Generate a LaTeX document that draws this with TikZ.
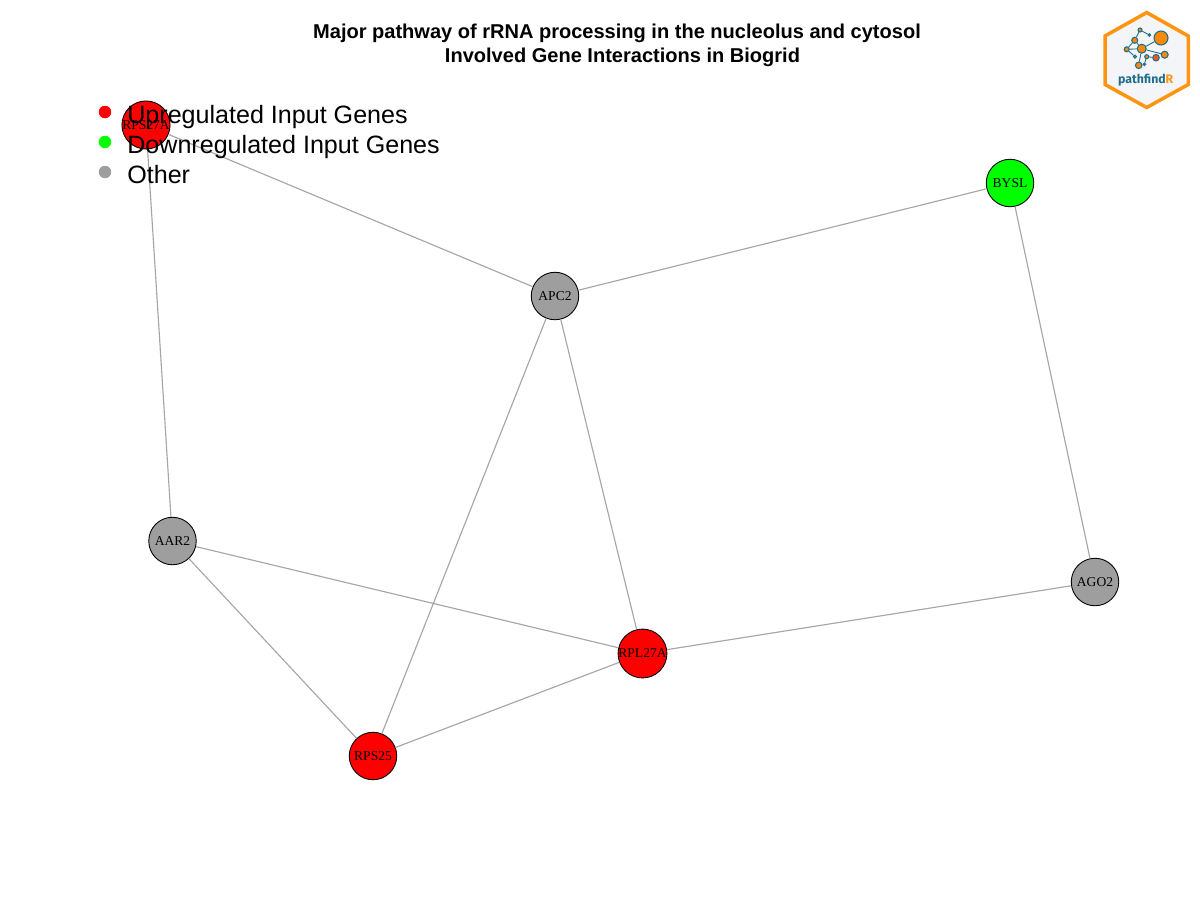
\documentclass[tikz,border=0pt]{standalone}
\usepackage{fontspec}
\setmainfont{Liberation Sans}
\newfontfamily\genefont{Liberation Serif}
\newfontfamily\logofont{Fira Sans}
\definecolor{othergray}{HTML}{9E9E9E}
\definecolor{edgegray}{HTML}{A6A6A6}
\definecolor{upred}{HTML}{FF0000}
\definecolor{downgreen}{HTML}{00FF00}
\definecolor{hexorange}{HTML}{FF9410}
\definecolor{hexfill}{HTML}{F3F5F8}
\definecolor{logoblue}{HTML}{1F6E8C}
\definecolor{logoorange}{HTML}{F98A07}
\definecolor{logored}{HTML}{EE5A1E}
\begin{document}
\begin{tikzpicture}[x=0.02cm,y=-0.02cm]
    \tikzstyle{gene}=[circle, draw=black, line width=0.5pt, inner sep=0pt, minimum size=0.95cm, font=\genefont\fontsize{7.7}{8}\selectfont]
    \tikzstyle{link}=[draw=edgegray, line width=0.65pt]
    \tikzstyle{legenddot}=[circle, inner sep=0pt, minimum size=0.25cm]
    \tikzstyle{legendtext}=[anchor=base west, inner sep=0pt, font=\fontsize{14.28}{16}\selectfont]
    \tikzstyle{titletext}=[inner sep=0pt, anchor=base, font=\bfseries\fontsize{11.4}{14}\selectfont]
    \tikzstyle{hub}=[circle, draw=logoblue, fill=logoorange, line width=0.6pt, inner sep=0pt]
    \tikzstyle{spoke}=[draw=logoblue, line width=0.5pt]
    \useasboundingbox (0,0) rectangle (1200,900);
    \node[gene, fill=upred] (RPSA) at (146,125) {RPS27A};
    \node[gene, fill=downgreen] (BYSL) at (1010,183) {BYSL};
    \node[gene, fill=othergray] (APC) at (555,296) {APC2};
    \node[gene, fill=othergray] (AAR) at (172.5,541) {AAR2};
    \node[gene, fill=othergray] (AGO) at (1095,582) {AGO2};
    \node[gene, fill=upred] (RPL) at (642.5,653.5) {RPL27A};
    \node[gene, fill=upred] (RPS) at (373,756) {RPS25};
    \path[link] (RPSA) -- (APC);
    \path[link] (RPSA) -- (AAR);
    \path[link] (APC) -- (BYSL);
    \path[link] (BYSL) -- (AGO);
    \path[link] (APC) -- (RPL);
    \path[link] (APC) -- (RPS);
    \path[link] (AAR) -- (RPL);
    \path[link] (AAR) -- (RPS);
    \path[link] (RPS) -- (RPL);
    \path[link] (RPL) -- (AGO);
    % title
    \node[titletext] (titleA) at (617,38) {Major pathway of rRNA processing in the nucleolus and cytosol};
    \node[titletext] (titleB) at (622.5,62) {Involved Gene Interactions in Biogrid};
    % legend
    \node[legenddot, fill=upred] (dotUp) at (105,112) {};
    \node[legenddot, fill=downgreen] (dotDown) at (105,142) {};
    \node[legenddot, fill=othergray] (dotOther) at (105,172) {};
    \node[legendtext] (textUp) at (127,123) {Upregulated Input Genes};
    \node[legendtext] (textDown) at (127,153) {Downregulated Input Genes};
    \node[legendtext] (textOther) at (127,183) {Other};
    % logo
    \draw[draw=hexorange, fill=hexfill, line width=2pt, line join=miter] (1146.7,12.5) -- (1188.3,36) -- (1188.3,84.5) -- (1146.7,107.5) -- (1105,84.5) -- (1105,36) -- cycle;
    \node[hub, minimum size=0.28cm] (big) at (1161,38) {};
    \node[hub, minimum size=0.18cm] (mid) at (1141.7,48.7) {};
    \node[hub, minimum size=0.12cm] (upl) at (1134.7,40.3) {};
    \node[hub, minimum size=0.08cm] (top) at (1140,30) {};
    \node[hub, minimum size=0.05cm] (tip) at (1149.3,35) {};
    \node[hub, minimum size=0.10cm] (lef) at (1126.7,49.3) {};
    \node[hub, minimum size=0.06cm] (low) at (1135,56.7) {};
    \node[hub, minimum size=0.13cm] (bot) at (1138.7,65.3) {};
    \node[hub, minimum size=0.08cm] (cen) at (1146.7,56.7) {};
    \node[hub, minimum size=0.13cm, fill=logored] (red) at (1156,57.7) {};
    \node[hub, minimum size=0.14cm] (rig) at (1164.7,54.7) {};
    \node[hub, minimum size=0.05cm, fill=logored] (dot) at (1144.3,64.3) {};
    \path[spoke] (mid) -- (big);
    \path[spoke] (mid) -- (upl);
    \path[spoke] (upl) -- (top);
    \path[spoke] (top) -- (tip);
    \path[spoke] (mid) -- (lef);
    \path[spoke] (lef) -- (upl);
    \path[spoke] (lef) -- (low);
    \path[spoke] (mid) -- (rig);
    \path[spoke] (mid) -- (bot);
    \path[spoke] (cen) -- (dot);
    \path[spoke] (cen) -- (red);
    \node[inner sep=0pt, text=logoblue, font=\logofont\bfseries\fontsize{7}{9}\selectfont] (logotext) at (1145.7,80.5) {pathfind\textcolor{hexorange}{R}};
\end{tikzpicture}
\end{document}
